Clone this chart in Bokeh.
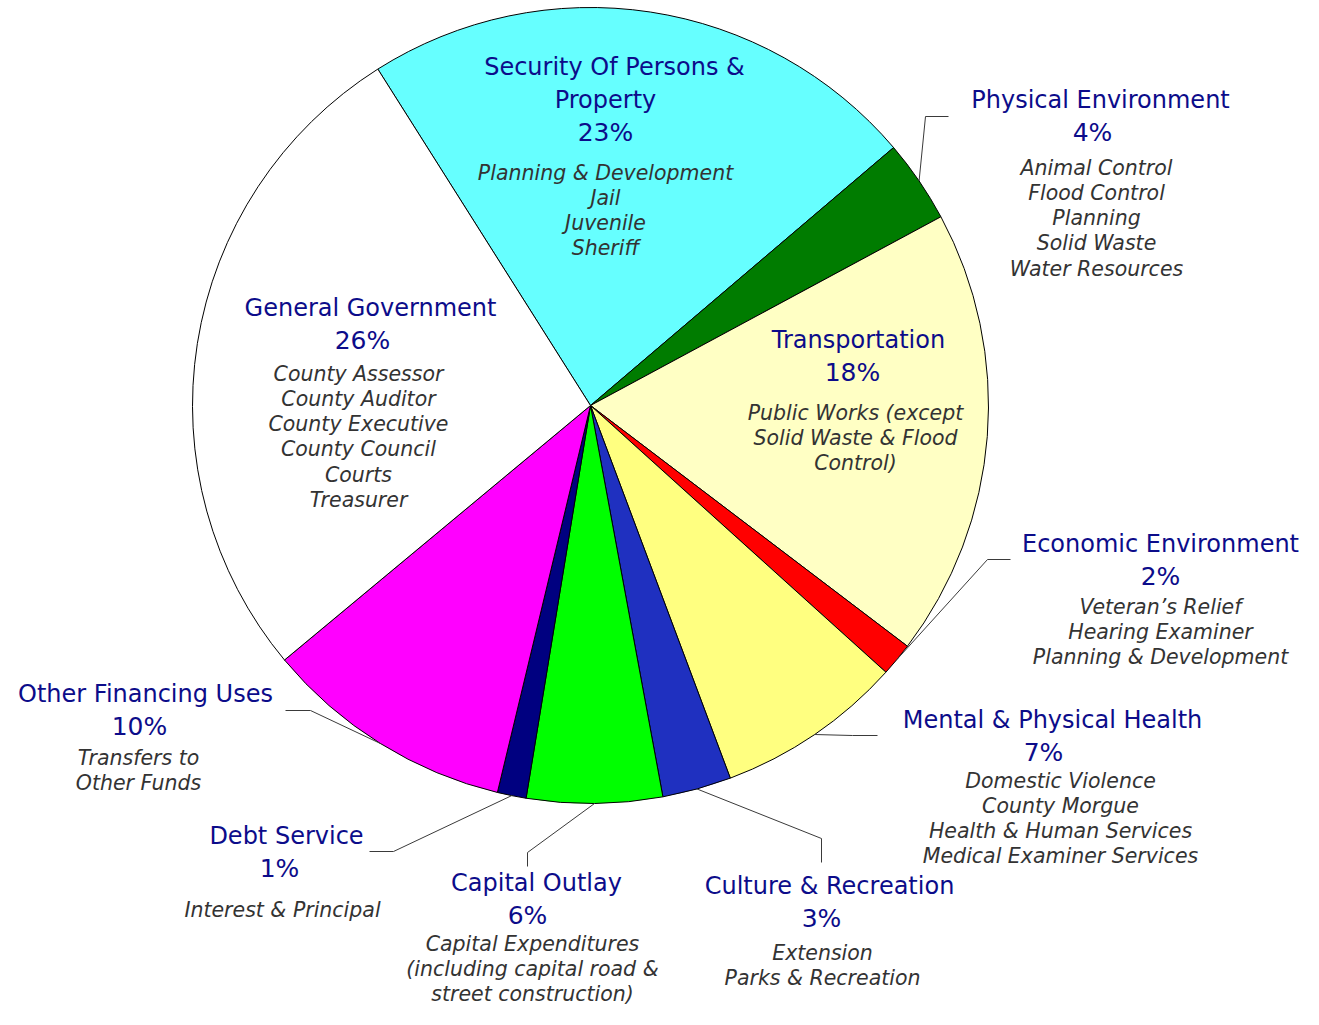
import numpy as np
from bokeh.plotting import figure
from bokeh.models import Range1d, ColumnDataSource
from bokeh.core.properties import value
from bokeh.embed import file_html
from bokeh.resources import INLINE

# ---------------- data ----------------
categories = ["Security Of Persons & Property", "Physical Environment", "Transportation",
              "Economic Environment", "Mental & Physical Health", "Culture & Recreation",
              "Capital Outlay", "Debt Service", "Other Financing Uses", "General Government"]
shares = [22.75, 3.36, 18.2, 1.35, 7.6, 2.8, 5.5, 1.17, 10.2, 27.07]
pct_labels = ["23%", "4%", "18%", "2%", "7%", "3%", "6%", "1%", "10%", "26%"]
title_lines = [["Security Of Persons &", "Property"], ["Physical Environment"], ["Transportation"],
               ["Economic Environment"], ["Mental & Physical Health"], ["Culture & Recreation"],
               ["Capital Outlay"], ["Debt Service"], ["Other Financing Uses"], ["General Government"]]
desc_lines = [["Planning & Development", "Jail", "Juvenile", "Sheriff"],
              ["Animal Control", "Flood Control", "Planning", "Solid Waste", "Water Resources"],
              ["Public Works (except", "Solid Waste & Flood", "Control)"],
              ["Veteran\u2019s Relief", "Hearing Examiner", "Planning & Development"],
              ["Domestic Violence", "County Morgue", "Health & Human Services", "Medical Examiner Services"],
              ["Extension", "Parks & Recreation"],
              ["Capital Expenditures", "(including capital road &", "street construction)"],
              ["Interest & Principal"],
              ["Transfers to", "Other Funds"],
              ["County Assessor", "County Auditor", "County Executive", "County Council", "Courts", "Treasurer"]]
colors = ["#66FFFF", "#007C00", "#FFFFC4", "#FF0000", "#FFFF80", "#1F30C0",
          "#00FF00", "#000080", "#FF00FF", "#FFFFFF"]

# ---------------- layout (pixel coordinates, y downward) ----------------
START_DEG = 122.3
CX, CY, R = 590, 405, 398
# (title x per line, title y, pct x, desc x, desc y)
layout = [
    ([614, 605], 66, 605, 605, 172),
    ([1100], 99, 1092, 1096, 167),
    ([858], 339, 852, 855, 412),
    ([1160], 543, 1160, 1160, 606),
    ([1052], 719, 1043, 1060, 780),
    ([829], 885, 821, 822, 952),
    ([536], 882, 527, 532, 943),
    ([286], 835, 279, 282, 909),
    ([145], 693, 139, 138, 757),
    ([370], 307, 362, 358, 373),
]
leaders = {1: [(925, 116), (948, 116)],
           3: [(987, 559), (1010, 559)],
           4: [(852, 735), (877, 735)],
           5: [(821, 838), (821, 862)],
           6: [(527, 852), (527, 866)],
           7: [(393, 851), (369, 851)],
           8: [(310, 710), (285, 710)]}
TITLE_DY = 33
DESC_DY = 25.3
NAVY = "#0c0c8a"

# ---------------- wedges ----------------
sh = np.array(shares, dtype=float)
cum = np.concatenate([[0.0], np.cumsum(sh)])
deg_hi = START_DEG - 360.0 * cum[:-1] / cum[-1]
deg_lo = START_DEG - 360.0 * cum[1:] / cum[-1]
start = np.radians(deg_lo)
end = np.radians(deg_hi)
mid = (start + end) / 2

wsrc = ColumnDataSource(dict(start=start, end=end, color=colors, name=categories))

W, H = 1303, 1009
p = figure(width=W, height=H, x_range=Range1d(0, W), y_range=Range1d(-H, 0),
           output_backend="svg", toolbar_location=None, min_border=0,
           x_axis_location=None, y_axis_location=None)
p.grid.visible = False
p.outline_line_color = None
p.background_fill_color = "white"
p.border_fill_color = "white"

p.wedge(x=CX, y=-CY, radius=R, start_angle="start", end_angle="end", direction="anticlock",
        fill_color="color", line_color="black", line_width=1, source=wsrc)

# leader lines
lx, ly = [], []
for i, pts in leaders.items():
    sx = CX + R * np.cos(mid[i])
    sy = -CY + R * np.sin(mid[i])
    lx.append([sx] + [q[0] for q in pts])
    ly.append([sy] + [-q[1] for q in pts])
p.multi_line(xs=lx, ys=ly, line_color="#3a3a3a", line_width=1)

# texts
tx, ty, tt = [], [], []
px, py, pt = [], [], []
dx, dy, dt = [], [], []
for i in range(len(categories)):
    txs, y0, pxx, dxx, dy0 = layout[i]
    for j, line in enumerate(title_lines[i]):
        tx.append(txs[j]); ty.append(-(y0 + TITLE_DY * j)); tt.append(line)
    px.append(pxx); py.append(-(y0 + TITLE_DY * len(title_lines[i]))); pt.append(pct_labels[i])
    for k, line in enumerate(desc_lines[i]):
        dx.append(dxx); dy.append(-(dy0 + DESC_DY * k)); dt.append(line)

p.text(x=tx, y=ty, text=tt, text_font=value("DejaVu Sans"), text_font_size="24px",
       text_color=NAVY, text_align="center", text_baseline="middle")
p.text(x=px, y=py, text=pt, text_font=value("DejaVu Sans"), text_font_size="25px",
       text_color=NAVY, text_align="center", text_baseline="middle")
p.text(x=dx, y=dy, text=dt, text_font=value("DejaVu Sans"), text_font_size="20.5px",
       text_font_style="italic", text_color="#333333", text_align="center", text_baseline="middle")

open("out.html", "w").write(file_html(p, INLINE))
